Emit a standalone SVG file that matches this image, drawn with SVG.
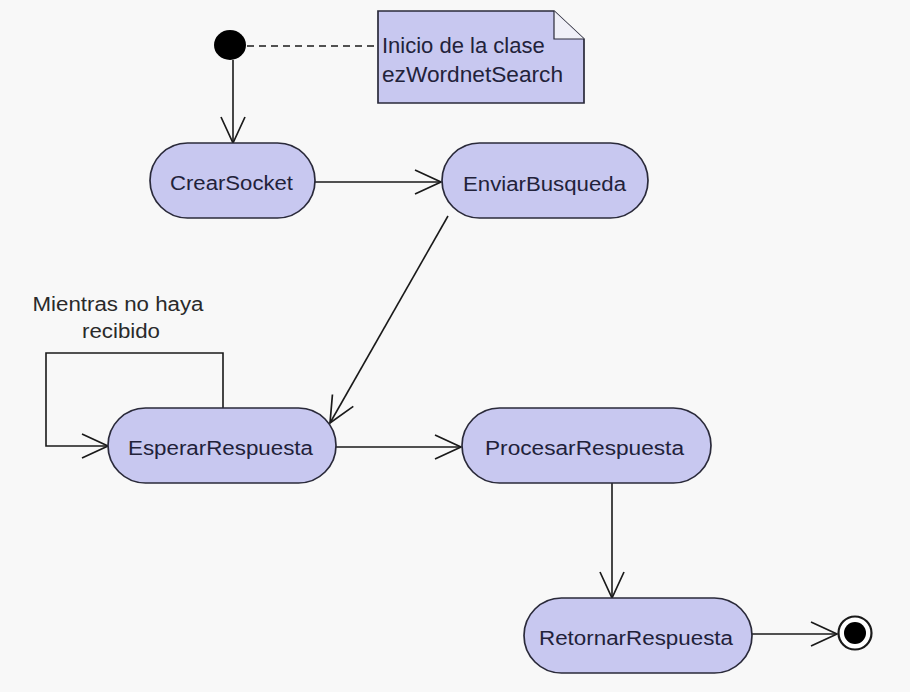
<svg xmlns="http://www.w3.org/2000/svg" width="910" height="692" viewBox="0 0 910 692">
<defs>
<marker id="open" markerUnits="userSpaceOnUse" markerWidth="32" markerHeight="32" viewBox="-28 -16 32 32" refX="0" refY="0" orient="auto">
<path d="M-26,-12 L0,0 L-26,12" fill="none" stroke="#1a1a1a" stroke-width="1.7"/>
</marker>
</defs>
<style>
.act{fill:#c8c8f0;stroke:#2a2a3a;stroke-width:1.7}
.lbl{font-family:"Liberation Sans",Arial,sans-serif;font-size:20px;fill:#22223a;text-anchor:middle}
.cap{font-family:"Liberation Sans",Arial,sans-serif;font-size:20px;fill:#2a2a2a;text-anchor:middle}
.note{font-family:"Liberation Sans",Arial,sans-serif;font-size:22px;fill:#22223a}
.edge{fill:none;stroke:#1a1a1a;stroke-width:1.6}
</style>
<rect x="0" y="0" width="910" height="692" fill="#f8f8f8"/>
<g id="connectors">
<line class="edge" x1="247" y1="46" x2="378" y2="46" stroke-dasharray="7,5"/>
<line class="edge" x1="233" y1="60" x2="233" y2="143" marker-end="url(#open)"/>
<line class="edge" x1="315" y1="182" x2="441" y2="182" marker-end="url(#open)"/>
<line class="edge" x1="448" y1="216" x2="330" y2="423" marker-end="url(#open)"/>
<polyline class="edge" points="223,408 223,353 46,353 46,446 108,446" marker-end="url(#open)"/>
<line class="edge" x1="336" y1="447" x2="461" y2="447" marker-end="url(#open)"/>
<line class="edge" x1="612" y1="483" x2="612" y2="598" marker-end="url(#open)"/>
<line class="edge" x1="752" y1="634" x2="837" y2="634" marker-end="url(#open)"/>
</g>
<g id="loop-label">
<text class="cap" x="118" y="311" textLength="171" lengthAdjust="spacingAndGlyphs">Mientras no haya</text>
<text class="cap" x="121" y="338" textLength="78" lengthAdjust="spacingAndGlyphs">recibido</text>
</g>
<g id="initial">
<ellipse cx="230" cy="45" rx="16" ry="15" fill="#000"/>
</g>
<g id="note">
<path d="M378,11 L554,11 L584,39 L584,103 L378,103 Z" fill="#c8c8f0" stroke="#2a2a3a" stroke-width="1.7"/>
<path d="M554,11 L554,39 L584,39" fill="#f0f0f8" stroke="#2a2a3a" stroke-width="1.2"/>
<text class="note" x="382" y="53">Inicio de la clase</text>
<text class="note" x="382" y="82" textLength="181" lengthAdjust="spacingAndGlyphs">ezWordnetSearch</text>
</g>
<g id="CrearSocket">
<rect class="act" x="150" y="143" width="165" height="75" rx="37.5"/>
<text class="lbl" x="231.5" y="190" textLength="123" lengthAdjust="spacingAndGlyphs">CrearSocket</text>
</g>
<g id="EnviarBusqueda">
<rect class="act" x="442" y="143" width="206" height="75" rx="37.5"/>
<text class="lbl" x="544.5" y="191" textLength="163" lengthAdjust="spacingAndGlyphs">EnviarBusqueda</text>
</g>
<g id="EsperarRespuesta">
<rect class="act" x="108" y="408" width="228" height="75" rx="37.5"/>
<text class="lbl" x="220.5" y="455" textLength="185" lengthAdjust="spacingAndGlyphs">EsperarRespuesta</text>
</g>
<g id="ProcesarRespuesta">
<rect class="act" x="462" y="408" width="249" height="75" rx="37.5"/>
<text class="lbl" x="584.5" y="455" textLength="199" lengthAdjust="spacingAndGlyphs">ProcesarRespuesta</text>
</g>
<g id="RetornarRespuesta">
<rect class="act" x="524" y="598" width="228" height="75" rx="37.5"/>
<text class="lbl" x="636" y="645" textLength="194" lengthAdjust="spacingAndGlyphs">RetornarRespuesta</text>
</g>
<g id="final">
<circle cx="855" cy="633" r="16.5" fill="#fff" stroke="#1a1a1a" stroke-width="2.2"/>
<circle cx="855" cy="633" r="11" fill="#000"/>
</g>
</svg>
